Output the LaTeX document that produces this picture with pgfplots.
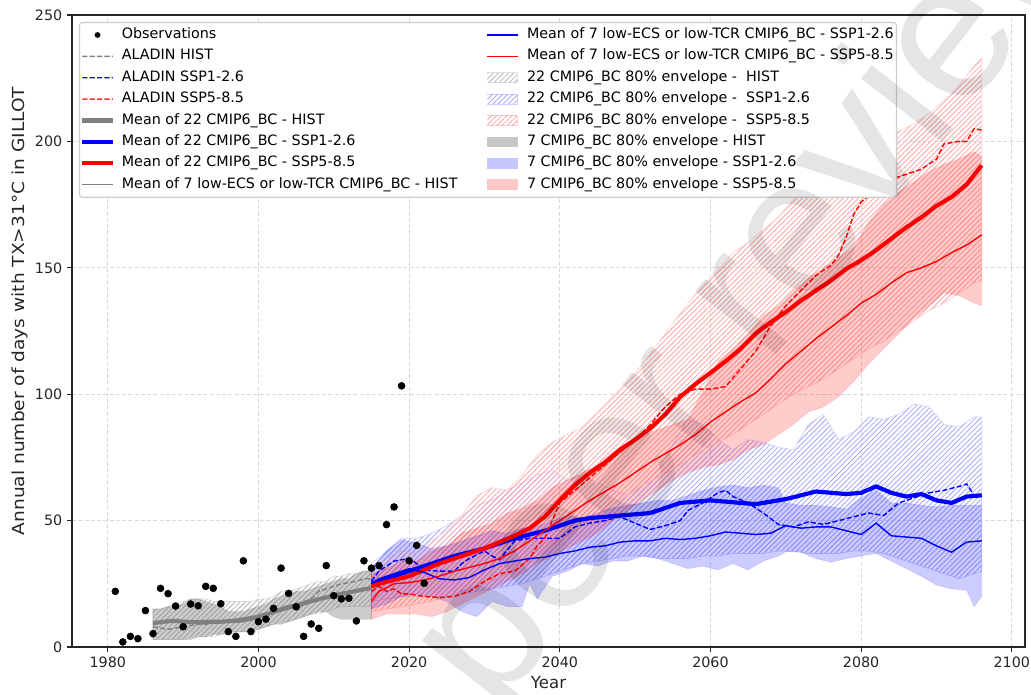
\documentclass[border=0pt]{standalone}
\usepackage{fontspec}
\setmainfont{DejaVu Sans}
\newfontfamily\wmfont{Liberation Sans}
\usepackage{pgfplots}
\pgfplotsset{compat=1.18}
\usepackage{pgfplotstable}
\usepgfplotslibrary{fillbetween}
\usetikzlibrary{patterns.meta}

% ---------------- data ----------------
\pgfplotstableread{
year obs
1981 22.0
1982 2.0
1983 4.2
1984 3.3
1985 14.4
1986 5.3
1987 23.2
1988 21.1
1989 16.2
1990 8.0
1991 17.0
1992 16.3
1993 24.0
1994 23.2
1995 17.1
1996 6.1
1997 4.2
1998 34.1
1999 6.1
2000 10.0
2001 11.0
2002 15.3
2003 31.2
2004 21.2
2005 15.9
2006 4.2
2007 9.1
2008 7.4
2009 32.2
2010 20.3
2011 19.0
2012 19.3
2013 10.3
2014 34.1
2015 31.2
2016 32.2
2017 48.4
2018 55.4
2019 103.3
2020 34.1
2021 40.2
2022 25.2
}\obs

\pgfplotstableread{
year hlo hhi slo shi m22 m7 ala
1986 3 15 3 15 9.5 9.0 8.0
1987 3 15 3 15 9.8 9.5 7.5
1988 3 16 3 16 10.2 10.0 7.0
1989 3 17 3 16 10.3 10.0 7.5
1990 3 18 3 17 10.0 10.0 8.0
1991 4 19 3 19 9.9 10.0 8.5
1992 4 19 4 19 9.8 10.0 9.0
1993 4 19 4 18 9.9 10.0 9.0
1994 4 18 5 17 10.0 10.0 9.5
1995 5 18 5 16 10.0 10.0 10.0
1996 5 18 6 14 10.2 10.5 10.0
1997 6 18 6 14 10.3 11.0 10.5
1998 6 18 6 14 10.6 11.5 11.0
1999 6 18 6 15 11.2 12.0 11.5
2000 7 19 7 16 12.0 12.5 12.5
2001 8 19 8 17 12.8 13.0 13.5
2002 9 20 9 19 13.8 14.0 14.5
2003 10 22 9 20 14.8 15.0 15.5
2004 10 22 10 21 15.6 15.5 16.5
2005 11 23 11 22 16.3 16.5 17.0
2006 12 24 12 22 17.2 17.5 18.0
2007 13 25 13 23 18.1 18.5 19.0
2008 13 26 14 24 18.9 19.0 22.0
2009 14 26 14 25 19.6 20.0 23.0
2010 15 28 12 26 20.3 21.0 24.0
2011 16 28 11 27 21.0 21.5 25.0
2012 16 29 11 27 21.6 22.0 25.5
2013 16 29 11 29 22.2 22.5 26.0
2014 16 30 11 30 22.8 23.0 27.0
2015 16 30 11 30 23.3 23.5 27.0
}\hist

\pgfplotstableread{
year lo hi
2015 18 33
2017 19 38
2019 20 43
2021 20 43
2023 20 45
2025 20 48
2027 21 52
2029 22 56
2031 23 58
2033 24 62
2035 25 65
2037 27 68
2039 29 70
2041 31 66
2043 33 68
2045 34 65
2047 35 62
2049 36 60
2051 36 64
2053 35 70
2055 35 80
2057 35 90
2059 36 88
2061 36 82
2063 37 78
2065 37 82
2067 37 81
2069 38 79
2071 38 78
2073 37 88
2075 37 92
2077 37 82
2079 38 85
2081 38 91
2083 37 90
2085 35 92
2087 33 96
2089 31 95
2091 29 88
2093 27 87
2095 29 91
2096 30 91
}\bhatch

\pgfplotstableread{
year lo hi
2015 15 31
2017 17 38
2019 20 42.5
2021 21 41
2023 20 39
2025 18 40
2027 14 42
2029 12 44
2031 18 46
2033 16 45
2035 16 47
2036 25 47.5
2037 19 48
2039 28 50
2041 30 52
2043 33 51
2045 32 53
2047 34 55
2049 34 56
2051 36 57
2053 35 58
2055 33 58
2057 31 60
2059 32 62
2061 30.5 63.4
2063 33 64
2065 30.5 63
2067 34 64
2069 36 63
2070 37.7 57
2072 37.5 56
2074 35 56
2076 33.5 55.5
2078 35 54.5
2080 36 59
2082 37 62
2084 34 57
2086 31 57
2088 28 56
2090 24.5 55.5
2092 23 56
2094 22.5 56
2095 16 56
2096 20 56
}\bsolid

\pgfplotstableread{
year lo hi
2015 14 30
2017 15 35
2019 16 38
2021 17 37
2023 18 42
2025 20 46
2027 22 52
2029 24 60
2031 26 63
2033 29 62
2035 32 68
2037 36 76
2039 40 81
2041 44 84
2043 48 87
2045 52 93
2047 56 99
2049 60 105
2051 64 112
2053 67 120
2055 70 128
2057 74 136
2059 78 143
2061 81 149
2063 84 156
2065 88 160
2067 92 165
2069 96 170
2071 100 177
2073 103 184
2075 106 189
2077 110 192
2079 114 196
2081 118 199
2083 121 201
2085 125 204
2087 129 207
2089 133 211
2091 136 216
2093 140 222
2095 144 230
2096 145 233
}\rhatch

\pgfplotstableread{
year lo hi
2015 11 29
2017 13 31
2019 13 34
2021 13 34
2023 12 38
2025 14 40
2027 17 45
2029 20 47
2031 23 49
2033 26 53
2035 29 55
2037 33 58
2039 36 63
2041 39 66
2043 42 69
2045 45 72
2047 50 77
2049 54 81
2051 58 84
2053 62 86
2055 66 88
2057 69 90
2059 71 101
2061 72 113
2063 74 118
2065 78 124
2067 80 131
2069 84 135
2071 88 141
2073 93 146
2075 95 150
2077 99 154
2079 105 158
2081 112 168
2083 118 175
2085 124 180
2087 130 184
2089 135 188
2091 140 191
2093 139 193
2095 136 196
2096 135 194
}\rsolid

\pgfplotstableread{
year m22b m22r m7b m7r
2015 25 24 25 18
2016 26 25 27 22
2018 28 26.5 29 25
2020 30 28 31 25.5
2022 32 30.5 29.5 26.5
2024 34 33 27 28
2026 36 35 26.5 30
2028 37.5 37 27.5 31.5
2030 39 39 30.5 33
2032 41 41.5 33 35
2034 43 44 34 38
2036 44.5 47 35 42
2038 46 51.5 35.5 46
2040 48 58 37 50
2042 50 64 38 54
2044 51 69 39.5 58
2046 51.5 73 40 61.5
2048 52 78 41.5 65
2050 52.5 82 42 69
2052 53 86.5 42 73
2054 55 92 43 76.5
2056 57 99 42.5 80
2058 57.5 104 43 84
2060 58 108.5 44 89
2062 57.5 113 45.5 93
2064 57 118 45 97
2066 56.5 124 44.5 100.5
2068 57.5 128.5 45 106
2070 58.5 132.5 48 112
2072 60 137 47 117
2074 61.5 141 47.5 122
2076 61 145 47.5 126.5
2078 60.5 149.5 46 131
2080 61 153 44.5 136
2082 63.5 157 49 139.5
2084 61 161.5 44 144
2086 59.5 166 43.5 148
2088 60.5 170 43 150
2090 58 174.5 40 152.5
2092 57 178 37.5 156
2094 59.5 183 41.5 159
2096 60 190.5 42 163
}\fut

\pgfplotstableread{
year v
2015 26
2016 30
2017 32
2018 34
2020 35
2021 33
2022 30.5
2024 30
2026 30
2027 33
2028 35
2030 38
2031 36
2032 34.5
2034 42
2036 43
2038 43
2040 43
2042 47.5
2044 49
2046 50
2048 51.5
2050 49
2052 46.5
2054 48
2056 50
2057 54
2059 57
2061 61
2062 62
2063 59.5
2065 57
2067 53
2069 48.5
2071 47.5
2073 49.5
2075 48.5
2077 50
2079 51.5
2081 53
2083 52
2085 57
2087 59
2089 61
2091 62
2093 63.5
2094 64.5
2095 60
2096 60
}\alab

\pgfplotstableread{
year v
2015 22
2016 24
2017 22
2018 23
2019 21
2020 21
2022 20
2024 19.5
2026 20
2028 22
2030 26
2032 29
2034 30
2036 35
2037 40
2038 43
2039 50
2040 57
2042 62
2044 67
2046 72
2048 77
2050 82
2052 88
2054 95
2056 100
2058 102
2060 102
2062 103
2064 110
2066 117
2068 127
2070 135
2072 141
2074 147
2076 151
2077 155
2078 162
2079 171
2080 176
2082 181
2084 185
2086 187
2088 189
2090 193
2091 199
2093 200
2094 200
2095 205
2096 204.5
}\alar

% legend images made of filled shapes (no stroke, sharp corners)
\tikzset{legshape/.style={draw=none, sharp corners, line width=0pt}}
\newcommand\legthin[1]{\path[legshape, fill=#1] (0bp,-0.5bp) rectangle (22bp,0.5bp);}
\newcommand\legthick[1]{\path[legshape, fill=#1] (0bp,-1.5bp) rectangle (22bp,1.5bp);}
\newcommand\legdash[1]{\path[legshape, fill=#1] (0bp,-0.5bp) rectangle (3.7bp,0.5bp) (5.3bp,-0.5bp) rectangle (9bp,0.5bp) (10.6bp,-0.5bp) rectangle (14.3bp,0.5bp) (15.9bp,-0.5bp) rectangle (19.6bp,0.5bp) (21.2bp,-0.5bp) rectangle (22bp,0.5bp);}
\newcommand\legbox[1]{\path[legshape, fill=#1] (-0.3bp,-3.9bp) rectangle (22.3bp,3.9bp);}
\newcommand\leghatch[2]{\path[legshape, fill=#1] (-0.3bp,-3.9bp) rectangle (22.3bp,3.9bp); \path[legshape, fill=white] (0.3bp,-3.3bp) rectangle (21.7bp,3.3bp); \path[legshape, pattern={Lines[angle=45,distance=2.6bp,line width=0.6bp]}, pattern color=#2] (0.3bp,-3.3bp) rectangle (21.7bp,3.3bp);}

\begin{document}
\begin{tikzpicture}
\begin{axis}[
  at={(0,0)}, anchor=south west,
  scale only axis, width=686.16bp, height=455.04bp,
  xmin=1975.25, xmax=2101.75, ymin=0, ymax=250,
  xtick={1980,2000,...,2100}, ytick={0,50,...,250},
  /pgf/number format/assume math mode=true,
  /pgf/number format/set thousands separator={},
  tick label style={font=\fontsize{10.3bp}{12bp}\selectfont, text=black!85},
  tick align=outside, major tick length=3.5bp,
  tick style={black!85, line width=0.8bp},
  xtick pos=bottom, ytick pos=left,
  axis line style={black!85, line width=0.8bp},
  grid=major, major grid style={gray!30, line width=0.6bp, dash pattern=on 3bp off 1.5bp},
  legend columns=2,
  legend cell align=left,
  legend style={
    at={(0,1)}, anchor=north west, xshift=5bp, yshift=-5bp,
    font=\fontsize{10.3bp}{12bp}\selectfont,
    draw=black!20, line width=0.8bp, rounded corners=2bp, fill=white,
    inner xsep=2bp, inner ysep=4bp,
    nodes={inner xsep=0bp, inner ysep=0bp, text height=7.6bp, text depth=2.4bp, sharp corners},
    row sep=5.4bp,
    /tikz/every odd column/.append style={column sep=6.5bp},
    /tikz/every even column/.append style={column sep=21bp},
  },
]
% ---- legend (interleaved so that columns read top to bottom) ----
\addlegendimage{legend image code/.code={\path[legshape, fill=black] (11bp,0bp) circle (2.1bp);}}
\addlegendentry{Observations}
\addlegendimage{legend image code/.code={\legthin{blue}}}
\addlegendentry{Mean of 7 low-ECS or low-TCR CMIP6\_BC - SSP1-2.6}
\addlegendimage{legend image code/.code={\legdash{gray}}}
\addlegendentry{ALADIN HIST}
\addlegendimage{legend image code/.code={\legthin{red}}}
\addlegendentry{Mean of 7 low-ECS or low-TCR CMIP6\_BC - SSP5-8.5}
\addlegendimage{legend image code/.code={\legdash{blue}}}
\addlegendentry{ALADIN SSP1-2.6}
\addlegendimage{legend image code/.code={\leghatch{gray!25}{gray!55}}}
\addlegendentry{22 CMIP6\_BC 80\% envelope -\ \ HIST}
\addlegendimage{legend image code/.code={\legdash{red!80}}}
\addlegendentry{ALADIN SSP5-8.5}
\addlegendimage{legend image code/.code={\leghatch{blue!20}{blue!35}}}
\addlegendentry{22 CMIP6\_BC 80\% envelope -\ \ SSP1-2.6}
\addlegendimage{legend image code/.code={\legthick{gray}}}
\addlegendentry{Mean of 22 CMIP6\_BC - HIST}
\addlegendimage{legend image code/.code={\leghatch{red!20}{red!35}}}
\addlegendentry{22 CMIP6\_BC 80\% envelope -\ \ SSP5-8.5}
\addlegendimage{legend image code/.code={\legthick{blue}}}
\addlegendentry{Mean of 22 CMIP6\_BC - SSP1-2.6}
\addlegendimage{legend image code/.code={\legbox{gray!45}}}
\addlegendentry{7 CMIP6\_BC 80\% envelope - HIST}
\addlegendimage{legend image code/.code={\legthick{red}}}
\addlegendentry{Mean of 22 CMIP6\_BC - SSP5-8.5}
\addlegendimage{legend image code/.code={\legbox{blue!22}}}
\addlegendentry{7 CMIP6\_BC 80\% envelope - SSP1-2.6}
\addlegendimage{legend image code/.code={\legthin{gray}}}
\addlegendentry{Mean of 7 low-ECS or low-TCR CMIP6\_BC - HIST}
\addlegendimage{legend image code/.code={\legbox{red!22}}}
\addlegendentry{7 CMIP6\_BC 80\% envelope - SSP5-8.5}

% ---- envelope boundaries ----
\addplot[draw=none, forget plot, name path=hhi] table[x=year,y=hhi]{\hist};
\addplot[draw=none, forget plot, name path=hlo] table[x=year,y=hlo]{\hist};
\addplot[draw=none, forget plot, name path=shi] table[x=year,y=shi]{\hist};
\addplot[draw=none, forget plot, name path=slo] table[x=year,y=slo]{\hist};
\addplot[draw=none, forget plot, name path=bhhi] table[x=year,y=hi]{\bhatch};
\addplot[draw=none, forget plot, name path=bhlo] table[x=year,y=lo]{\bhatch};
\addplot[draw=none, forget plot, name path=bshi] table[x=year,y=hi]{\bsolid};
\addplot[draw=none, forget plot, name path=bslo] table[x=year,y=lo]{\bsolid};
\addplot[draw=none, forget plot, name path=rhhi] table[x=year,y=hi]{\rhatch};
\addplot[draw=none, forget plot, name path=rhlo] table[x=year,y=lo]{\rhatch};
\addplot[draw=none, forget plot, name path=rshi] table[x=year,y=hi]{\rsolid};
\addplot[draw=none, forget plot, name path=rslo] table[x=year,y=lo]{\rsolid};

% ---- hatched 22-model envelopes ----
\addplot[forget plot, draw=gray!30, line width=0.5bp, pattern={Lines[angle=45,distance=2.6bp,line width=0.6bp]}, pattern color=gray!60] fill between[of=hhi and hlo];
\addplot[forget plot, draw=blue!18, line width=0.5bp, pattern={Lines[angle=45,distance=2.6bp,line width=0.6bp]}, pattern color=blue!35] fill between[of=bhhi and bhlo];
\addplot[forget plot, draw=red!18, line width=0.5bp, pattern={Lines[angle=45,distance=2.6bp,line width=0.6bp]}, pattern color=red!35] fill between[of=rhhi and rhlo];

% ---- solid 7-model envelopes ----
\addplot[forget plot, fill=gray, fill opacity=0.4, draw=gray, draw opacity=0.3, line width=0.5bp] fill between[of=shi and slo];
\addplot[forget plot, fill=blue, fill opacity=0.2, draw=blue, draw opacity=0.12, line width=0.5bp] fill between[of=bshi and bslo];
\addplot[forget plot, fill=red, fill opacity=0.2, draw=red, draw opacity=0.12, line width=0.5bp] fill between[of=rshi and rslo];

% ---- ALADIN ----
\addplot[forget plot, draw=gray, line width=1bp, dash pattern=on 3.7bp off 1.6bp] table[x=year,y=ala]{\hist};
\addplot[forget plot, draw=blue, line width=1bp, dash pattern=on 3.7bp off 1.6bp] table[x=year,y=v]{\alab};
\addplot[forget plot, draw=red, line width=1bp, dash pattern=on 3.7bp off 1.6bp] table[x=year,y=v]{\alar};

% ---- means ----
\addplot[forget plot, draw=gray, line width=3bp] table[x=year,y=m22]{\hist};
\addplot[forget plot, draw=blue, line width=3bp] table[x=year,y=m22b]{\fut};
\addplot[forget plot, draw=red, line width=3bp] table[x=year,y=m22r]{\fut};
\addplot[forget plot, draw=gray, line width=1bp] table[x=year,y=m7]{\hist};
\addplot[forget plot, draw=blue, line width=1bp] table[x=year,y=m7b]{\fut};
\addplot[forget plot, draw=red, line width=1bp] table[x=year,y=m7r]{\fut};

% ---- observations ----
\addplot[forget plot, only marks, mark=*, mark size=2.5bp, black] table[x=year,y=obs]{\obs};
\end{axis}

\node[font=\fontsize{12}{14}\selectfont, text=black!85] at (343.08bp,-25.9bp) {Year};
\node[rotate=90, font=\fontsize{12}{14}\selectfont, text=black!85] at (-37.4bp,241.9bp) {\scalebox{1.12}[1]{Annual number of days with TX>31°C in GILLOT}};

\node[rotate=52, anchor=base west, opacity=0.1, font=\wmfont\fontsize{140bp}{160bp}\selectfont] at (-166.7bp,-652bp) {Preprint not peer reviewed};

\pgfresetboundingbox
\path[use as bounding box] (-51.84bp,-33.84bp) rectangle (690.48bp,465.84bp);
\end{tikzpicture}
\end{document}
